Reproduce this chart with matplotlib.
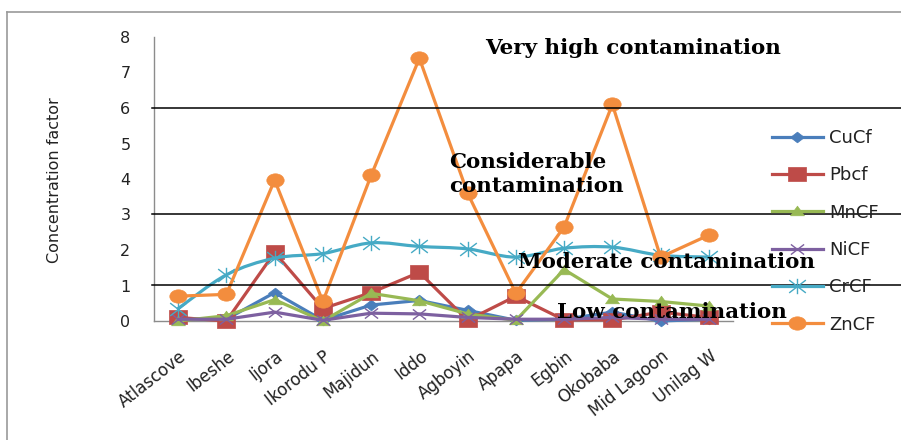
import matplotlib
matplotlib.use("Agg")
import matplotlib.pyplot as plt
from matplotlib.path import Path
from matplotlib.patches import PathPatch
from matplotlib.lines import Line2D
from matplotlib.transforms import Affine2D, ScaledTranslation
import numpy as np

# ---- data -------------------------------------------------------------
sites = ["Atlascove", "Ibeshe", "Ijora", "Ikorodu P", "Majidun", "Iddo",
         "Agboyin", "Apapa", "Egbin", "Okobaba", "Mid Lagoon", "Unilag W"]
cu_cf = [0.05, 0.05, 0.80, 0.02, 0.45, 0.58, 0.30, 0.02, 0.05, 0.25, 0.00, 0.05]
pb_cf = [0.10, 0.00, 1.93, 0.35, 0.80, 1.37, 0.02, 0.70, 0.03, 0.03, 0.25, 0.10]
mn_cf = [0.00, 0.15, 0.60, 0.00, 0.78, 0.57, 0.20, 0.02, 1.45, 0.62, 0.55, 0.42]
ni_cf = [0.05, 0.05, 0.25, 0.02, 0.22, 0.20, 0.10, 0.05, 0.05, 0.10, 0.05, 0.05]
cr_cf = [0.35, 1.30, 1.77, 1.90, 2.20, 2.10, 2.03, 1.80, 2.05, 2.08, 1.85, 1.80]
zn_cf = [0.70, 0.75, 3.97, 0.55, 4.10, 7.40, 3.60, 0.78, 2.65, 6.10, 1.80, 2.42]
series_names = ["CuCf", "Pbcf", "MnCF", "NiCF", "CrCF", "ZnCF"]
y_ticks = [0, 1, 2, 3, 4, 5, 6, 7, 8]
class_limits = [1, 3, 6]
class_labels = ["Very high contamination", "Considerable\ncontamination",
                "Moderate contamination", "Low contamination"]

W, H = 901, 440
fig = plt.figure(figsize=(W / 100, H / 100), dpi=100)
fig.patch.set_facecolor("white")

def fx(px):
    return px / W

def fy(py):
    return 1 - py / H

# plot area
x0, x1, y0, y1 = 154, 733, 321, 37
ax = fig.add_axes([fx(x0), fy(y0), (x1 - x0) / W, (y0 - y1) / H])
ax.set_xlim(-0.5, len(sites) - 0.5)
ax.set_ylim(0, 8)
ax.set_facecolor("none")
for s in ["top", "right"]:
    ax.spines[s].set_visible(False)
for s in ["left", "bottom"]:
    ax.spines[s].set_color("#8c8c8c")
    ax.spines[s].set_linewidth(1.0)

# markers slightly wider than tall
SX = 1.3
def stretched(verts, codes=None):
    v = np.asarray(verts, float)
    v[:, 0] *= SX
    return Path(v, codes)

circ = Path.unit_circle().transformed(Affine2D().scale(SX, 1.0))
square = stretched([(-1, -1), (1, -1), (1, 1), (-1, 1), (-1, -1)],
                   [Path.MOVETO, Path.LINETO, Path.LINETO, Path.LINETO, Path.CLOSEPOLY])
diamond = stretched([(0, 1), (1, 0), (0, -1), (-1, 0), (0, 1)],
                    [Path.MOVETO, Path.LINETO, Path.LINETO, Path.LINETO, Path.CLOSEPOLY])
triangle = stretched([(0, 1), (1, -0.8), (-1, -0.8), (0, 1)],
                     [Path.MOVETO, Path.LINETO, Path.LINETO, Path.CLOSEPOLY])
cross = stretched([(-1, -1), (1, 1), (-1, 1), (1, -1)],
                  [Path.MOVETO, Path.LINETO, Path.MOVETO, Path.LINETO])
star = stretched([(-1, -1), (1, 1), (-1, 1), (1, -1), (0, -1.2), (0, 1.2)],
                 [Path.MOVETO, Path.LINETO, Path.MOVETO, Path.LINETO, Path.MOVETO, Path.LINETO])

styles = {
    "CuCf": dict(color="#4A7EBB", marker=diamond, ms=10, mfc="#4A7EBB", mew=0.5),
    "Pbcf": dict(color="#BE4B48", marker=square, ms=13, mfc="#BE4B48", mew=0.5),
    "MnCF": dict(color="#98B954", marker=triangle, ms=10, mfc="#98B954", mew=0.5),
    "NiCF": dict(color="#7D60A0", marker=cross, ms=9.5, mfc="none", mew=1.0),
    "CrCF": dict(color="#46AAC5", marker=star, ms=12, mfc="none", mew=1.0),
    "ZnCF": dict(color="#F38D3E", marker=circ, ms=12.5, mfc="#F38D3E", mew=0.5),
}
values = [cu_cf, pb_cf, mn_cf, ni_cf, cr_cf, zn_cf]
xs = np.arange(len(sites))
LW = 2.3

def smooth_path(x, y):
    # Catmull-Rom style cubic Bezier through the points
    pts = np.column_stack([x, y]).astype(float)
    n = len(pts)
    verts = [pts[0]]
    codes = [Path.MOVETO]
    for i in range(n - 1):
        p0 = pts[i - 1] if i > 0 else pts[i]
        p1, p2 = pts[i], pts[i + 1]
        p3 = pts[i + 2] if i + 2 < n else pts[i + 1]
        c1 = p1 + (p2 - p0) / 6
        c2 = p2 - (p3 - p1) / 6
        verts += [c1, c2, p2]
        codes += [Path.CURVE4] * 3
    return Path(verts, codes)

handles = []
for name, vals in zip(series_names, values):
    st = styles[name]
    if name == "CrCF":
        ax.add_patch(PathPatch(smooth_path(xs, vals), fill=False,
                               edgecolor=st["color"], lw=LW, zorder=3,
                               capstyle="round", joinstyle="round"))
        ax.plot(xs, vals, linestyle="none", marker=st["marker"], ms=st["ms"],
                mfc=st["mfc"], mec=st["color"], mew=st["mew"], zorder=3,
                clip_on=False)
    else:
        ax.plot(xs, vals, color=st["color"], lw=LW, marker=st["marker"],
                ms=st["ms"], mfc=st["mfc"], mec=st["color"], mew=st["mew"],
                zorder=3, clip_on=False, solid_joinstyle="round")
    handles.append(Line2D([], [], color=st["color"], lw=LW, marker=st["marker"],
                          ms=st["ms"], mfc=st["mfc"], mec=st["color"],
                          mew=st["mew"], label=name))

# class boundary lines running across to the right edge
for lim in class_limits:
    ax.axhline(lim, xmin=-0.004, xmax=(W - x0) / (x1 - x0) + 0.01,
               color="black", lw=1.1, clip_on=False, zorder=4)

# ticks
ax.set_yticks(y_ticks)
ax.set_yticklabels([str(t) for t in y_ticks])
ax.tick_params(axis="y", length=0, pad=17, labelsize=11.5,
               labelcolor="#222222")
ax.set_xticks(xs)
ax.set_xticklabels(sites)
ax.tick_params(axis="x", length=0, pad=24, labelsize=12,
               labelcolor="#222222")
shift = ScaledTranslation(6 / 100, 0, fig.dpi_scale_trans)
for lbl in ax.get_xticklabels():
    lbl.set_rotation(38)
    lbl.set_ha("right")
    lbl.set_va("center")
    lbl.set_rotation_mode("anchor")
    lbl.set_transform(lbl.get_transform() + shift)

fig.text(fx(55), fy(180), "Concentration factor", rotation=90,
         ha="center", va="center", fontsize=11.5, color="#222222")

# class annotations
tkw = dict(fontfamily="DejaVu Serif", fontweight="bold", fontsize=15.4,
           color="black", zorder=6)
fig.text(fx(633), fy(48), class_labels[0], ha="center", va="center", **tkw)
fig.text(fx(449), fy(174), class_labels[1], ha="left", va="center",
         linespacing=1.2, **tkw)
fig.text(fx(666), fy(262), class_labels[2], ha="center", va="center", **tkw)
fig.text(fx(672), fy(312), class_labels[3], ha="center", va="center", **tkw)

leg = fig.legend(handles=handles, loc="upper left",
                 bbox_to_anchor=(fx(772), fy(129)), frameon=False,
                 fontsize=13, handlelength=2.8, handletextpad=0.35,
                 labelspacing=1.07, borderpad=0, borderaxespad=0)
for t in leg.get_texts():
    t.set_color("#222222")

# outer chart border
fig.add_artist(Line2D([fx(7), fx(7)], [fy(12), 0], color="#9a9a9a", lw=1.2))
fig.add_artist(Line2D([fx(7), 1], [fy(12), fy(12)], color="#9a9a9a", lw=1.2))

fig.savefig("out.png", dpi=100, facecolor="white")
